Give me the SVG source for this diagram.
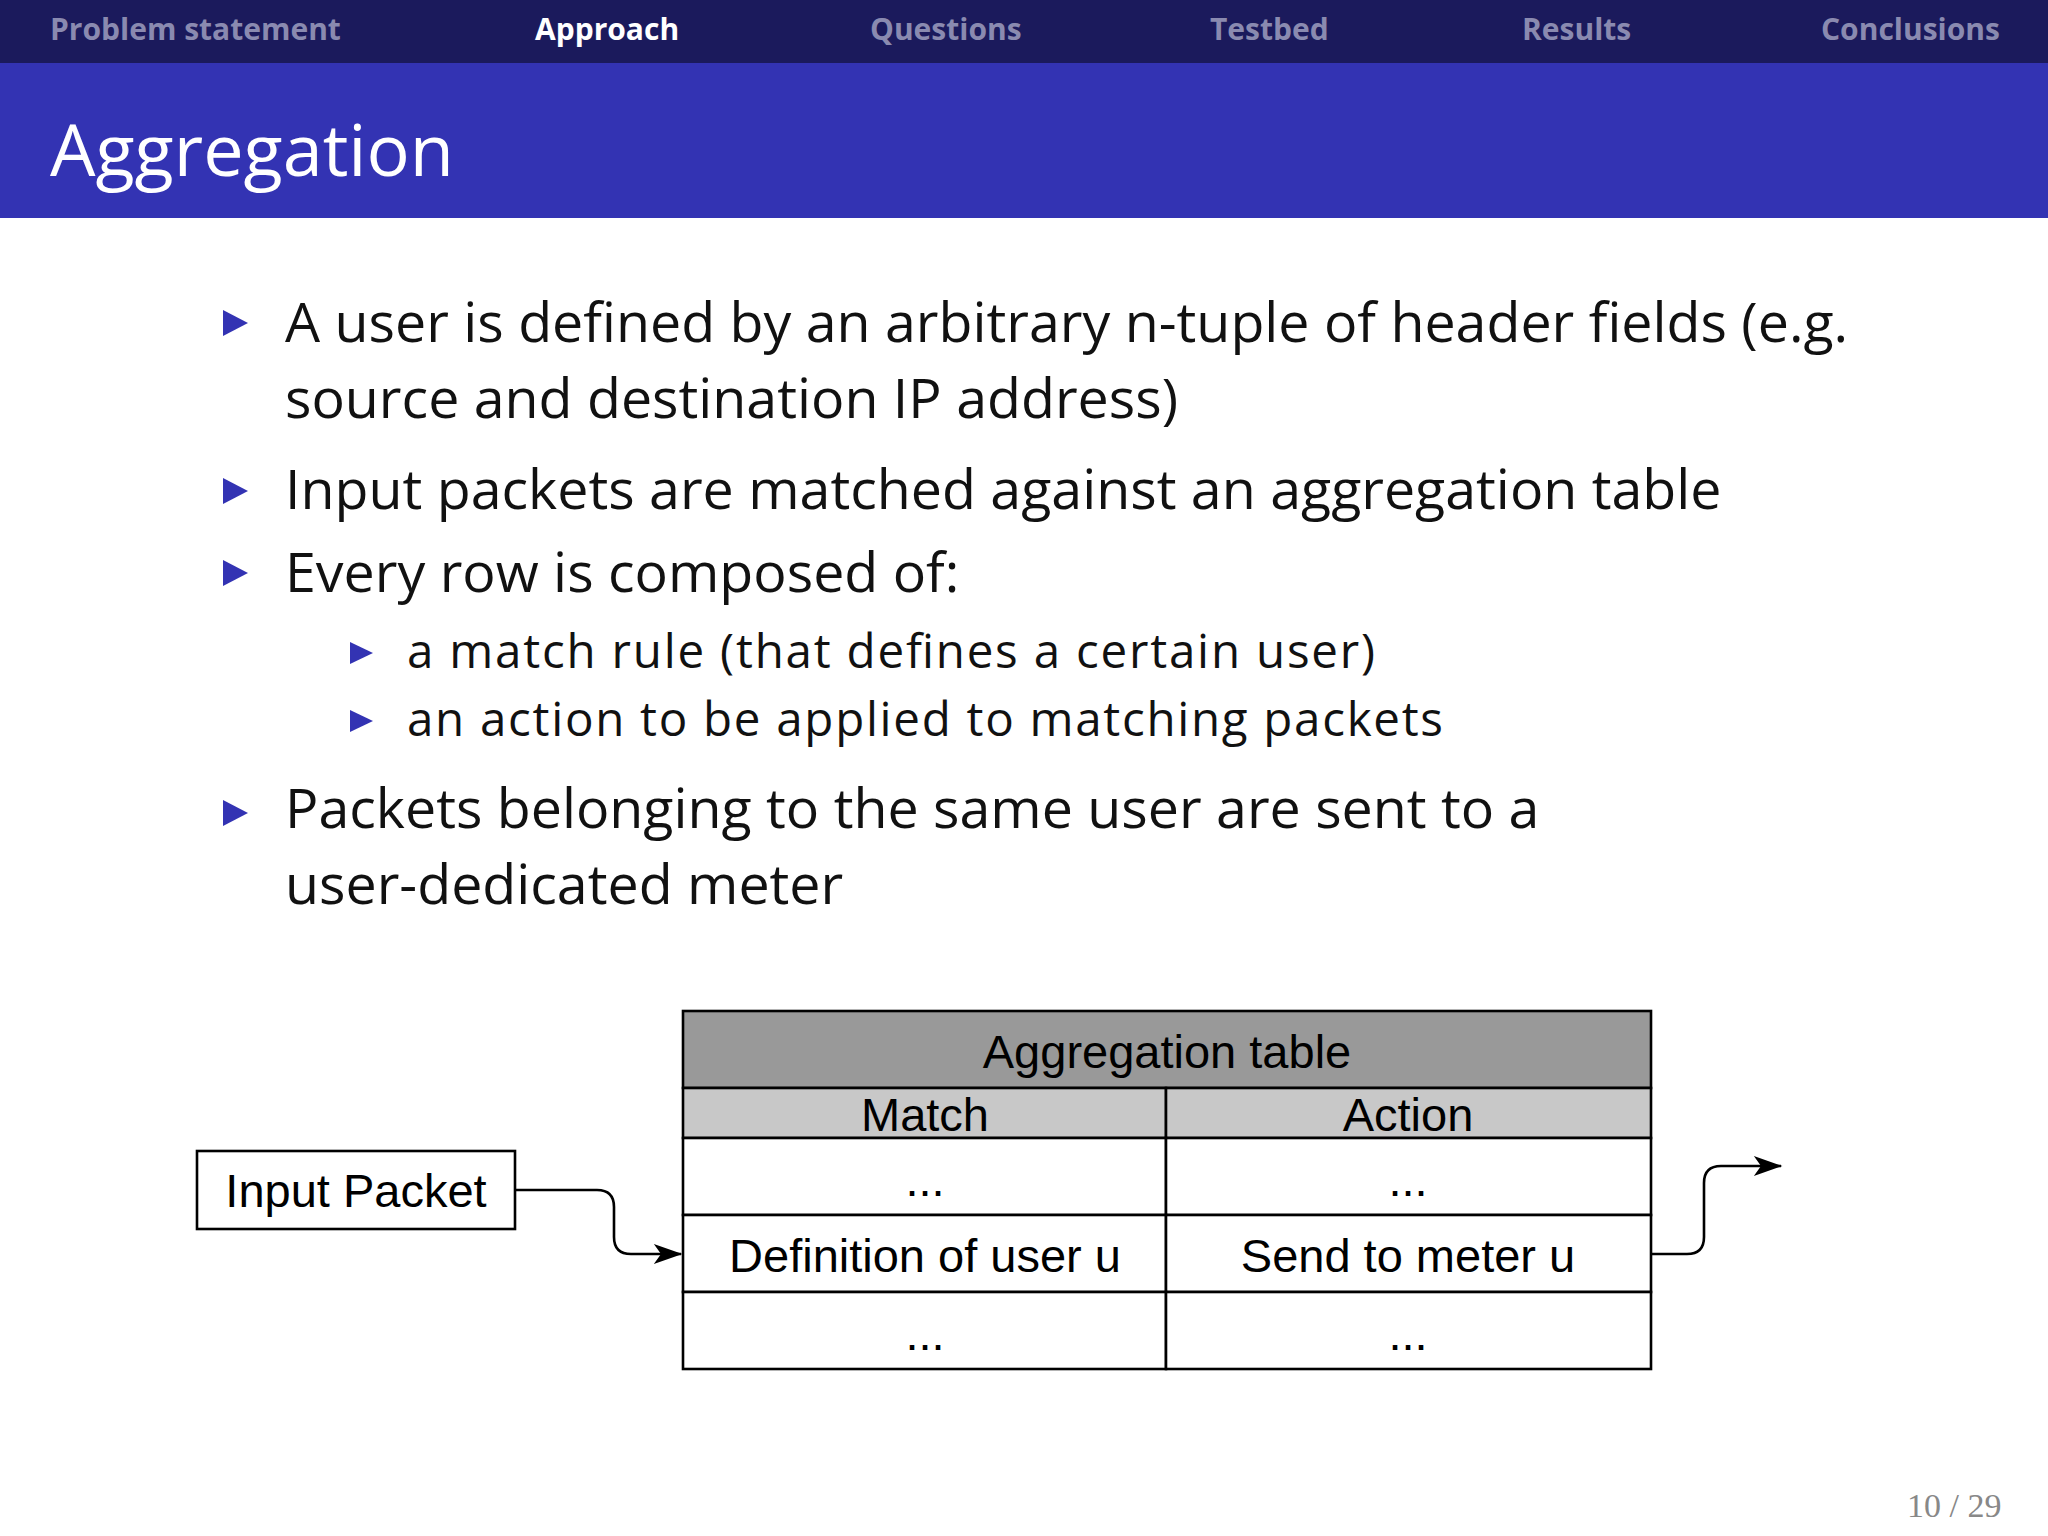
<svg xmlns="http://www.w3.org/2000/svg" width="2048" height="1536" viewBox="0 0 2048 1536">
<style>
.nav{font-family:"Open Sans",sans-serif;font-size:30px;font-weight:bold;fill:#8a8ab0}
.b{font-family:"Open Sans",sans-serif;font-size:55.5px;fill:#111}
.s{font-family:"Open Sans",sans-serif;font-size:47.5px;fill:#111}
.t{font-family:"Liberation Sans",Arial,sans-serif;font-size:47px;fill:#000;text-anchor:middle}
.cell{stroke:#000;stroke-width:2.6}
.conn{fill:none;stroke:#000;stroke-width:2.6}
</style>
<defs>
<marker id="ah2" viewBox="0 0 20 14" refX="19" refY="7" markerWidth="30" markerHeight="20" orient="auto" markerUnits="userSpaceOnUse"><path d="M0 0 L20 7 L0 14 L5 7 Z" fill="#000"/></marker></defs>
<rect x="0" y="0" width="2048" height="63" fill="#1b1a5c"/>
<text class="nav" x="50" y="40">Problem statement</text>
<text class="nav" x="535" y="40" style="fill:#fff">Approach</text>
<text class="nav" x="870" y="40">Questions</text>
<text class="nav" x="1210" y="40">Testbed</text>
<text class="nav" x="1522" y="40">Results</text>
<text class="nav" x="1821" y="40">Conclusions</text>
<rect x="0" y="63" width="2048" height="155" fill="#3333b3"/>
<text x="50" y="176" font-family="Open Sans,sans-serif" font-size="72" fill="#fff">Aggregation</text>
<g fill="#3333b3">
<path d="M223 310 L248 323 L223 336 Z"/>
<path d="M223 478 L248 491 L223 504 Z"/>
<path d="M223 560 L248 573 L223 586 Z"/>
<path d="M223 800 L248 813 L223 826 Z"/>
<path d="M350 642 L373 653 L350 664 Z"/>
<path d="M350 710 L373 721 L350 732 Z"/>
</g>
<text class="b" x="285" y="342">A user is defined by an arbitrary n-tuple of header fields (e.g.</text>
<text class="b" x="285" y="418">source and destination IP address)</text>
<text class="b" x="285" y="509">Input packets are matched against an aggregation table</text>
<text class="b" x="285" y="592">Every row is composed of:</text>
<text class="s" x="407" y="668" textLength="968">a match rule (that defines a certain user)</text>
<text class="s" x="407" y="736" textLength="1036">an action to be applied to matching packets</text>
<text class="b" x="285" y="828">Packets belonging to the same user are sent to a</text>
<text class="b" x="285" y="904">user-dedicated meter</text>
<g id="table">
<rect class="cell" x="683" y="1011" width="968" height="77" fill="#999"/>
<rect class="cell" x="683" y="1088" width="483" height="50" fill="#c8c8c8"/>
<rect class="cell" x="1166" y="1088" width="485" height="50" fill="#c8c8c8"/>
<rect class="cell" x="683" y="1138" width="483" height="77" fill="#fff"/>
<rect class="cell" x="1166" y="1138" width="485" height="77" fill="#fff"/>
<rect class="cell" x="683" y="1215" width="483" height="77" fill="#fff"/>
<rect class="cell" x="1166" y="1215" width="485" height="77" fill="#fff"/>
<rect class="cell" x="683" y="1292" width="483" height="77" fill="#fff"/>
<rect class="cell" x="1166" y="1292" width="485" height="77" fill="#fff"/>
<text class="t" x="1167" y="1068">Aggregation table</text>
<text class="t" x="925" y="1131">Match</text>
<text class="t" x="1408" y="1131">Action</text>
<text class="t" x="925" y="1196">...</text>
<text class="t" x="1408" y="1196">...</text>
<text class="t" x="925" y="1272">Definition of user u</text>
<text class="t" x="1408" y="1272">Send to meter u</text>
<text class="t" x="925" y="1350">...</text>
<text class="t" x="1408" y="1350">...</text>
</g>
<g id="input">
<rect class="cell" x="197" y="1151" width="318" height="78" fill="#fff"/>
<text class="t" x="356" y="1207">Input Packet</text>
</g>
<g id="connectors">
<path class="conn" d="M515 1190 H597 Q614 1190 614 1207 V1237 Q614 1254 631 1254 H681" marker-end="url(#ah2)"/>
<path class="conn" d="M1651 1254 H1687 Q1704 1254 1704 1237 V1183 Q1704 1166 1721 1166 H1781" marker-end="url(#ah2)"/>
</g>
<text x="1907" y="1517" font-family="Liberation Serif,serif" font-size="34" fill="#888">10 / 29</text>
</svg>
